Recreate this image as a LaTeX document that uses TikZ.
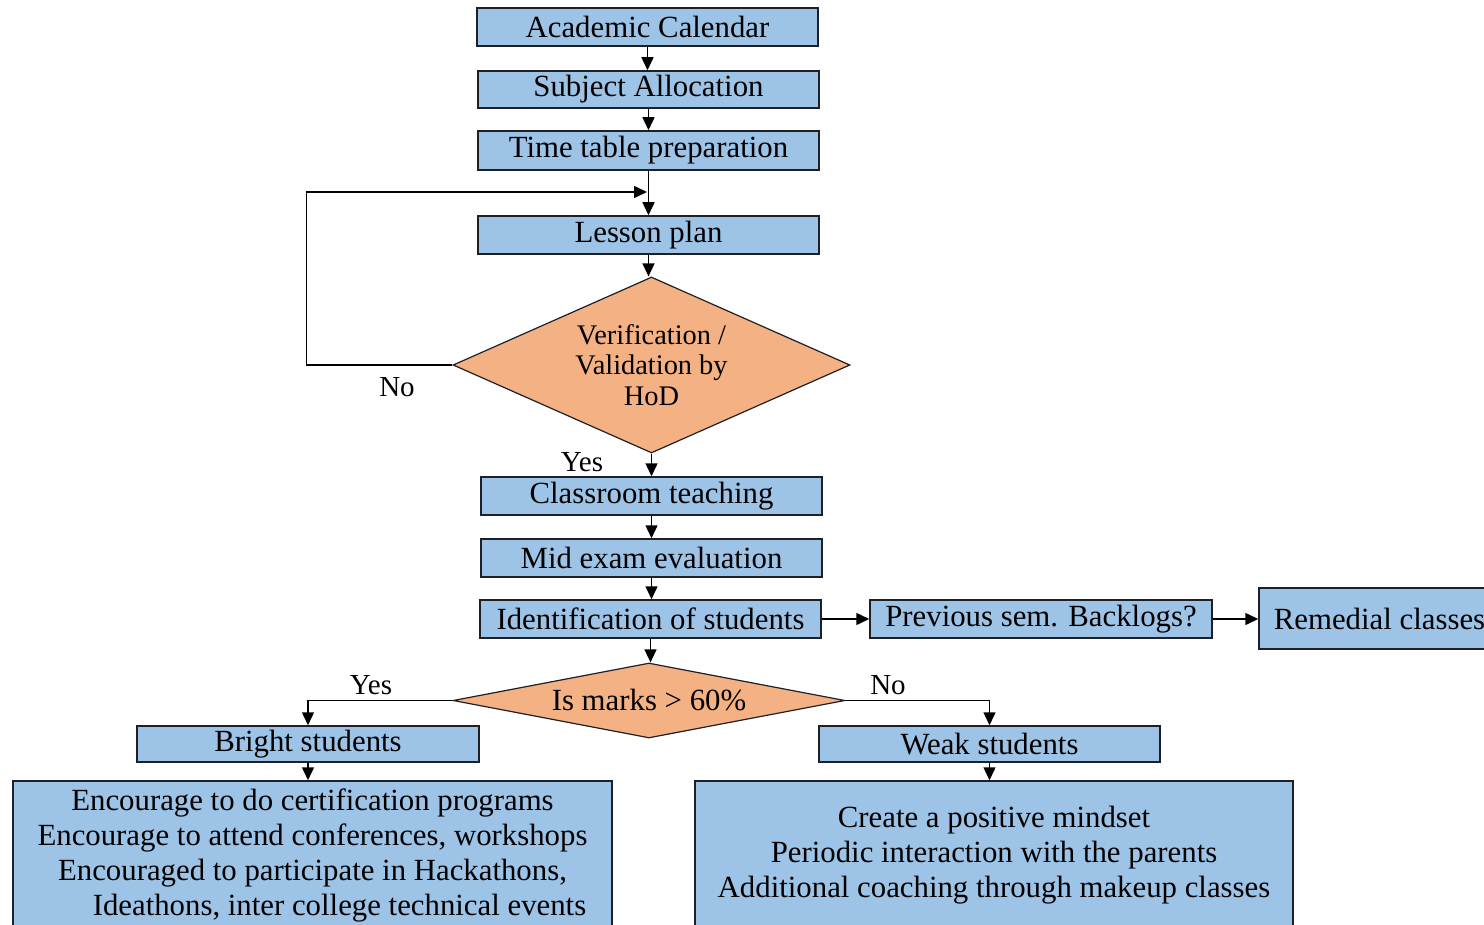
\documentclass[tikz,border=0pt]{standalone}
\usepackage{fontspec}
\setmainfont{Liberation Serif}
\usetikzlibrary{shapes.geometric,arrows.meta}
\definecolor{boxblue}{RGB}{157,195,230}
\definecolor{decorange}{RGB}{244,177,131}
\definecolor{edge}{RGB}{30,32,40}
\begin{document}
\begin{tikzpicture}[x=0.5pt,y=-0.5pt,
  every node/.style={font=\fontsize{15.4}{17.5}\selectfont},
  stepbox/.style={draw=edge,line width=0.75pt,fill=boxblue,inner sep=0pt,
    minimum width=170.5pt,minimum height=19pt},
  decision/.style={draw=edge,line width=0.6pt,fill=decorange,diamond,inner sep=0pt,align=center},
  lbl/.style={font=\fontsize{14.5}{16}\selectfont,inner sep=0pt},
  arr/.style={line width=0.75pt,-{Triangle[length=6.5pt,width=6pt]}},
  ln/.style={line width=0.75pt}]
\useasboundingbox (0,0) rectangle (1484,925);

% main column
\node[stepbox] (ac) at (647.5,27) {Academic Calendar};
\node[stepbox,minimum height=18.5pt] (sa) at (648.5,89.5) {Subject Allocation};
\node[stepbox,minimum height=19.5pt] (tt) at (648.5,150.5) {Time table preparation};
\node[stepbox] (lp) at (648.5,235) {Lesson plan};
\node[decision,shape aspect=2.25,minimum width=198.5pt,minimum height=88pt,
  font=\fontsize{14.2}{15.25}\selectfont] (ver) at (651.5,365)
  {Verification /\\Validation by\\HoD};
\node[stepbox] (ct) at (651.5,496) {Classroom teaching};
\node[stepbox] (me) at (651.5,558) {Mid exam evaluation};
\node[stepbox] (id) at (650.5,619) {Identification of students};
\node[stepbox,minimum width=171pt] (prev) at (1041,619) {Previous sem. Backlogs?};
\node[stepbox,minimum width=120.5pt,minimum height=30.5pt] (rem) at (1379.5,618.5) {Remedial classes};
\node[decision,shape aspect=5.2,minimum width=196pt,minimum height=37.5pt] (marks) at (649,700.5)
  {Is marks > 60\%};

% branches
\node[stepbox,minimum width=171pt,minimum height=18pt] (bright) at (308,744) {Bright students};
\node[stepbox,minimum height=18pt] (weak) at (989.5,744) {Weak students};
\node[stepbox,minimum width=299.5pt,minimum height=74.5pt,align=center] (bbox) at (312.5,855.5)
  {Encourage to do certification programs\\
   Encourage to attend conferences, workshops\\
   Encouraged to participate in Hackathons,\\
   \hspace*{27pt}Ideathons, inter college technical events};
\node[stepbox,minimum width=299pt,minimum height=74.5pt,align=center] (wbox) at (994,855.5)
  {Create a positive mindset\\
   Periodic interaction with the parents\\
   Additional coaching through makeup classes};

% connectors
\draw[arr] (ac.south) -- (ac.south |- sa.north);
\draw[arr] (sa.south) -- (sa.south |- tt.north);
\coordinate (back) at (647,192);
\draw[arr] (tt.south) -- (tt.south |- lp.north);
\draw[arr] (ver.west) -- ++(-146,0) |- (back);
\draw[arr] (lp.south) -- (lp.south |- ver.north);
\draw[arr] (ver.south) -- (ver.south |- ct.north);
\draw[arr] (ct.south) -- (ct.south |- me.north);
\draw[arr] (me.south) -- (me.south |- id.north);
\draw[arr] (id.south) -- (id.south |- marks.north);
\draw[arr] (id.east) -- (id.east -| prev.west);
\draw[arr] (prev.east) -- (prev.east -| rem.west);
\draw[arr] (marks.west) -| (bright.north);
\draw[arr] (marks.east) -| (weak.north);
\draw[arr] (bright.south) -- (bright.south |- bbox.north);
\draw[arr] (weak.south) -- (weak.south |- wbox.north);

% branch labels
\node[lbl] (no1) at (397,387) {No};
\node[lbl] (yes1) at (582,462) {Yes};
\node[lbl] (yes2) at (371,685) {Yes};
\node[lbl] (no2) at (888,685) {No};
\end{tikzpicture}
\end{document}
